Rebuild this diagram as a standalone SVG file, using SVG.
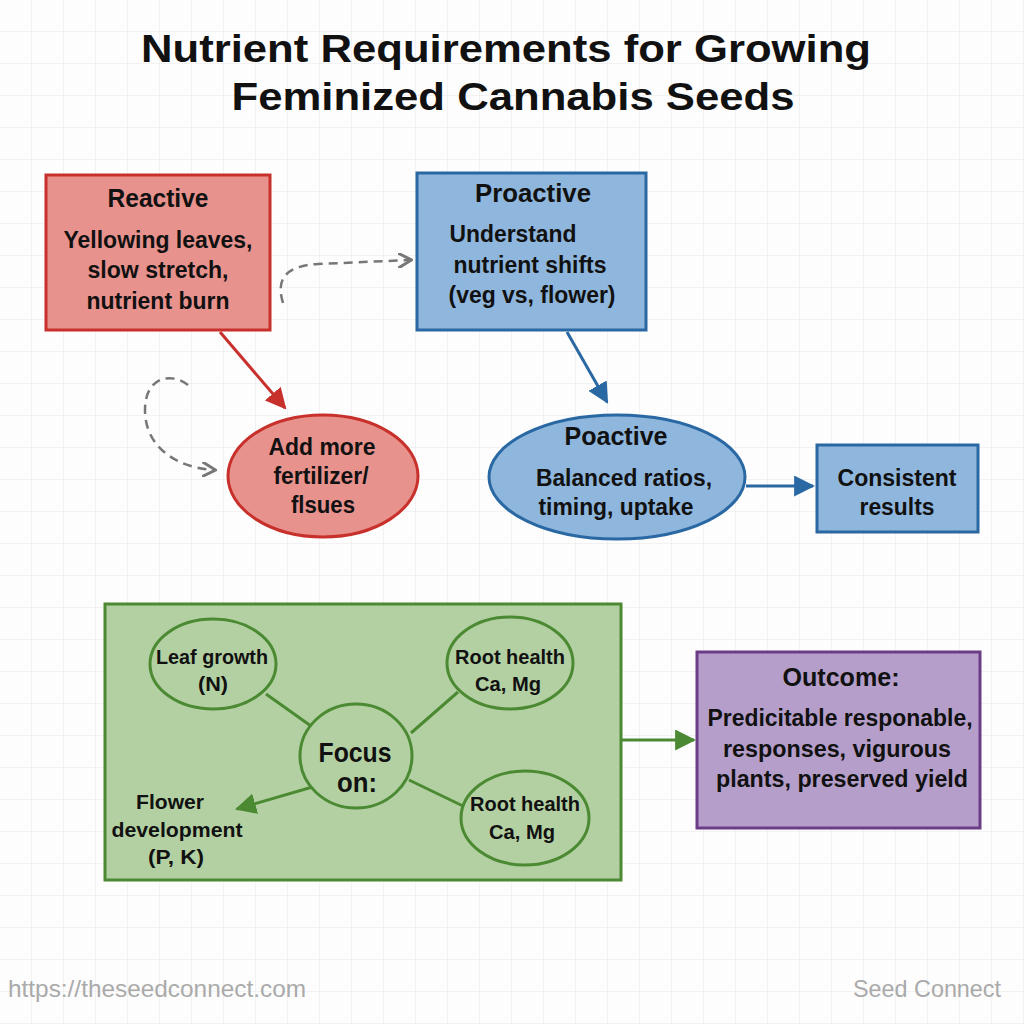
<svg xmlns="http://www.w3.org/2000/svg" width="1024" height="1024" viewBox="0 0 1024 1024">
<defs>
<pattern id="grid" width="32" height="32" patternUnits="userSpaceOnUse">
<path d="M32 0V32M0 32H32" fill="none" stroke="#e6e6e6" stroke-width="1"/>
</pattern>
<marker id="ahRed" viewBox="0 0 10 10" refX="9" refY="5" markerWidth="7" markerHeight="7" orient="auto"><path d="M0 0L10 5L0 10z" fill="#c8302c"/></marker>
<marker id="ahBlue" viewBox="0 0 10 10" refX="9" refY="5" markerWidth="7" markerHeight="7" orient="auto"><path d="M0 0L10 5L0 10z" fill="#2a68a3"/></marker>
<marker id="ahGreen" viewBox="0 0 10 10" refX="9" refY="5" markerWidth="7" markerHeight="7" orient="auto"><path d="M0 0L10 5L0 10z" fill="#4b8a32"/></marker>
<marker id="ahGray" viewBox="0 0 10 10" refX="8" refY="5" markerWidth="6" markerHeight="6" orient="auto"><path d="M0 0L9 5L0 10" fill="none" stroke="#777" stroke-width="2"/></marker>
</defs>
<style>
text{font-family:"Liberation Sans",Arial,sans-serif;font-weight:bold;fill:#111;text-anchor:middle}
.title{font-size:39px}
.h{font-size:25px}
.b{font-size:23px}
.s{font-size:21px}
.f{font-size:28px}
.red{fill:#e8928d;stroke:#c8302c;stroke-width:3}
.blue{fill:#8fb6dc;stroke:#2a68a3;stroke-width:3}
.green{fill:#b3d0a2;stroke:#4b8a32;stroke-width:3}
.purple{fill:#b59fca;stroke:#6a3d86;stroke-width:3}
.foot{font-weight:normal;font-size:24px;fill:#aaaaaa}
</style>
<rect width="1024" height="1024" fill="#fdfdfd"/>
<rect width="1024" height="1024" fill="url(#grid)"/>
<g id="title">
<text class="title" x="506" y="62" textLength="730" lengthAdjust="spacingAndGlyphs">Nutrient Requirements for Growing</text>
<text class="title" x="513" y="110" textLength="563" lengthAdjust="spacingAndGlyphs">Feminized Cannabis Seeds</text>
</g>
<g id="focusgroup">
<rect class="green" x="105" y="604" width="516" height="276"/>
</g>
<g id="connectors" fill="none">
<path d="M220 332L285 408" stroke="#c8302c" stroke-width="3" marker-end="url(#ahRed)"/>
<path d="M567 332L607 402" stroke="#2a68a3" stroke-width="3" marker-end="url(#ahBlue)"/>
<path d="M746 486L813 486" stroke="#2a68a3" stroke-width="3" marker-end="url(#ahBlue)"/>
<path d="M622 740L694 740" stroke="#4b8a32" stroke-width="3" marker-end="url(#ahGreen)"/>
<path d="M283 303C276 280 284 266 318 264L410 260" stroke="#777" stroke-width="2.5" stroke-dasharray="9 6" marker-end="url(#ahGray)"/>
<path d="M188 385C172 372 145 376 145 410C145 448 178 468 214 470" stroke="#777" stroke-width="2.5" stroke-dasharray="9 6" marker-end="url(#ahGray)"/>
<path d="M266 694L318 731M458 692L411 733M409 780L463 806" stroke="#4b8a32" stroke-width="3"/>
<path d="M333 781L237 809" stroke="#4b8a32" stroke-width="3" marker-end="url(#ahGreen)"/>
</g>
<g id="reactive">
<rect class="red" x="46" y="175" width="224" height="155"/>
<text class="h" x="158" y="207" textLength="101" lengthAdjust="spacingAndGlyphs">Reactive</text>
<text class="b" x="158" y="248" textLength="189" lengthAdjust="spacingAndGlyphs">Yellowing leaves,</text>
<text class="b" x="158" y="278" textLength="141" lengthAdjust="spacingAndGlyphs">slow stretch,</text>
<text class="b" x="158" y="309" textLength="143" lengthAdjust="spacingAndGlyphs">nutrient burn</text>
</g>
<g id="proactive">
<rect class="blue" x="417" y="173" width="229" height="157"/>
<text class="h" x="533" y="202" textLength="116" lengthAdjust="spacingAndGlyphs">Proactive</text>
<text class="b" x="513" y="242" textLength="127" lengthAdjust="spacingAndGlyphs">Understand</text>
<text class="b" x="530" y="273" textLength="153" lengthAdjust="spacingAndGlyphs">nutrient shifts</text>
<text class="b" x="532" y="303" textLength="167" lengthAdjust="spacingAndGlyphs">(veg vs, flower)</text>
</g>
<g id="addmore">
<ellipse class="red" cx="323" cy="476" rx="95" ry="61"/>
<text class="b" x="322" y="455" textLength="107" lengthAdjust="spacingAndGlyphs">Add more</text>
<text class="b" x="321" y="484" textLength="95" lengthAdjust="spacingAndGlyphs">fertilizer/</text>
<text class="b" x="323" y="513" textLength="64" lengthAdjust="spacingAndGlyphs">flsues</text>
</g>
<g id="poactive">
<ellipse class="blue" cx="617" cy="477" rx="128" ry="62"/>
<text class="h" x="616" y="445" textLength="103" lengthAdjust="spacingAndGlyphs">Poactive</text>
<text class="b" x="624" y="486" textLength="176" lengthAdjust="spacingAndGlyphs">Balanced ratios,</text>
<text class="b" x="616" y="515" textLength="155" lengthAdjust="spacingAndGlyphs">timing, uptake</text>
</g>
<g id="consistent">
<rect class="blue" x="817" y="445" width="161" height="87"/>
<text class="b" x="897" y="486" textLength="119" lengthAdjust="spacingAndGlyphs">Consistent</text>
<text class="b" x="897" y="515" textLength="75" lengthAdjust="spacingAndGlyphs">results</text>
</g>
<g id="leaf">
<ellipse class="green" cx="213" cy="664" rx="63" ry="45"/>
<text class="s" x="212" y="664" textLength="112" lengthAdjust="spacingAndGlyphs">Leaf growth</text>
<text class="s" x="213" y="691" textLength="30" lengthAdjust="spacingAndGlyphs">(N)</text>
</g>
<g id="roottop">
<ellipse class="green" cx="510" cy="663" rx="63" ry="46"/>
<text class="s" x="510" y="664" textLength="110" lengthAdjust="spacingAndGlyphs">Root health</text>
<text class="s" x="508" y="691" textLength="66" lengthAdjust="spacingAndGlyphs">Ca, Mg</text>
</g>
<g id="focus">
<ellipse class="green" cx="356" cy="756" rx="56" ry="52"/>
<text class="f" x="355" y="762" textLength="73" lengthAdjust="spacingAndGlyphs">Focus</text>
<text class="f" x="357" y="792" textLength="40" lengthAdjust="spacingAndGlyphs">on:</text>
</g>
<g id="rootbottom">
<ellipse class="green" cx="525" cy="818" rx="64" ry="47"/>
<text class="s" x="525" y="811" textLength="110" lengthAdjust="spacingAndGlyphs">Root health</text>
<text class="s" x="522" y="839" textLength="66" lengthAdjust="spacingAndGlyphs">Ca, Mg</text>
</g>
<g id="flower">
<text class="s" x="170" y="809" textLength="68" lengthAdjust="spacingAndGlyphs">Flower</text>
<text class="s" x="177" y="837" textLength="131" lengthAdjust="spacingAndGlyphs">development</text>
<text class="s" x="176" y="864" textLength="56" lengthAdjust="spacingAndGlyphs">(P, K)</text>
</g>
<g id="outcome">
<rect class="purple" x="697" y="652" width="283" height="176"/>
<text class="h" x="841" y="686" textLength="117" lengthAdjust="spacingAndGlyphs">Outcome:</text>
<text class="b" x="840" y="726" textLength="265" lengthAdjust="spacingAndGlyphs">Predicitable responable,</text>
<text class="b" x="837" y="757" textLength="228" lengthAdjust="spacingAndGlyphs">responses, vigurous</text>
<text class="b" x="842" y="787" textLength="252" lengthAdjust="spacingAndGlyphs">plants, preserved yield</text>
</g>
<g id="footer">
<text class="foot" x="8" y="997" style="text-anchor:start" textLength="298" lengthAdjust="spacingAndGlyphs">https://theseedconnect.com</text>
<text class="foot" x="1001" y="997" style="text-anchor:end" textLength="148" lengthAdjust="spacingAndGlyphs">Seed Connect</text>
</g>
</svg>
